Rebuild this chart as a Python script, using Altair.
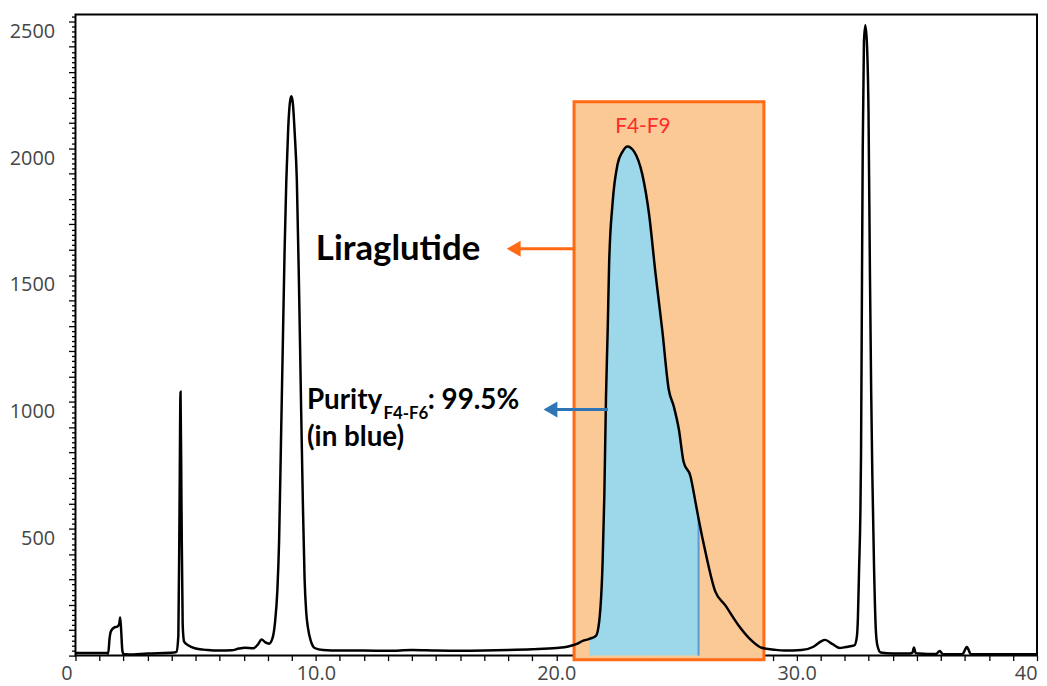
import altair as alt
import pandas as pd

# Chromatogram trace (retention time in min, signal in mAU)
time_min = [0.0, 1.3, 1.36, 1.42, 1.47, 1.6, 1.75, 1.82, 1.86, 1.9, 1.95, 2.0, 2.2, 3.0, 4.1,
            4.2, 4.28, 4.33, 4.37, 4.41, 4.46, 4.52, 4.7, 5.0, 5.5, 6.0, 6.5, 6.8, 7.05, 7.4,
            7.6, 7.74, 7.9, 8.05, 8.2, 8.3, 8.4, 8.47, 8.55, 8.62, 8.7, 8.77, 8.85, 8.92, 8.98,
            9.04, 9.12, 9.21, 9.3, 9.39, 9.46, 9.53, 9.6, 9.67, 9.8, 9.95, 10.3, 11.0, 12.0,
            13.0, 14.0, 15.0, 16.0, 17.0, 18.0, 19.0, 20.0, 20.5, 20.83, 21.1, 21.38, 21.65,
            21.79, 21.93, 22.0, 22.07, 22.14, 22.2, 22.34, 22.55, 22.76, 22.96, 23.24, 23.58,
            23.86, 24.13, 24.41, 24.68, 24.89, 25.1, 25.3, 25.58, 25.79, 25.92, 26.2, 26.61,
            27.02, 27.57, 28.13, 28.54, 29.09, 29.5, 30.2, 30.7, 31.0, 31.18, 31.5, 31.8, 32.05,
            32.3, 32.4, 32.5, 32.55, 32.6, 32.65, 32.68, 32.72, 32.75, 32.8, 32.86, 32.93,
            32.99, 33.05, 33.1, 33.15, 33.22, 33.29, 33.36, 33.5, 34.0, 34.7, 34.82, 34.88,
            34.95, 35.1, 35.8, 35.95, 36.1, 36.9, 37.08, 37.25, 38.0, 39.0, 40.0]
signal_mau = [10, 10, 8, 70, 95, 110, 115, 125, 150, 100, 20, 6, 4, 8, 12,
              15, 80, 600, 1040, 600, 120, 55, 40, 28, 22, 20, 21, 28, 31, 29,
              45, 64, 52, 47, 70, 130, 260, 450, 850, 1200, 1600, 1870, 2080, 2180, 2205,
              2180, 2060, 1870, 1450, 958, 600, 305, 170, 110, 55, 30, 22, 20, 20,
              19, 22, 20, 19, 20, 22, 25, 30, 36, 45, 58, 66, 78,
              137, 372, 630, 1021, 1283, 1545, 1780, 1937, 1987, 2007, 1987, 1897,
              1741, 1506, 1283, 1049, 982, 892, 763, 708, 606, 540, 411, 254,
              200, 121, 59, 31, 23, 20, 22, 35, 55, 62, 45, 30, 34,
              38, 40, 70, 150, 350, 550, 800, 1500, 2000, 2420, 2485, 2400,
              2144, 1500, 1050, 709, 350, 110, 40, 12, 8, 8, 12, 32,
              10, 8, 6, 18, 5, 6, 34, 6, 5, 5, 5]

# Collected fraction window F4-F9 and purity window F4-F6
pool_start, pool_end = 20.74, 28.64
pool_low, pool_high = -16, 2183
blue_start, blue_end = 21.38, 25.92
blue_end_signal = signal_mau[time_min.index(blue_end)]

df = pd.DataFrame({"t": time_min, "s": signal_mau})

XS = alt.Scale(domain=[0, 40], nice=False, zero=False)
YS = alt.Scale(domain=[0, 2527], nice=False, zero=False)

LABEL_GREY = "#454545"

X_AX = alt.Axis(
    values=list(range(0, 41)),
    labelExpr=("datum.value == 0 ? '0' : (datum.value == 40 ? '40' : "
               "(datum.value % 10 == 0 ? format(datum.value, '.1f') : ''))"),
    labelOffset={"condition": {"test": "datum.value == 0", "value": -9}, "value": 0},
    labelAlign={"condition": {"test": "datum.value == 40", "value": "right"}, "value": "center"},
    tickSize=5, tickColor="black", tickWidth=1.3, domain=False, grid=False,
    labelFont="Open Sans", labelFontSize=20, labelColor=LABEL_GREY,
    labelPadding=3, labelFlush=False, labelOverlap=False, title=None,
)
Y_AX = alt.Axis(
    values=list(range(0, 2521, 20)),
    labelExpr="(datum.value % 500 == 0 && datum.value > 0) ? datum.value : ''",
    tickSize={"condition": {"test": "datum.value % 100 === 0", "value": 7}, "value": 4},
    tickColor="black", tickWidth=1.3, domain=False, grid=False,
    labelFont="Open Sans", labelFontSize=20, labelColor=LABEL_GREY,
    labelPadding=14, labelOffset=10, labelOverlap=False, labelFlush=False, title=None,
)

box = alt.Chart(df).mark_rect(
    fill="#FBC995", stroke="#FF6A13", strokeWidth=3
).encode(
    x=alt.X(datum=pool_start, type="quantitative", scale=XS, axis=X_AX),
    x2=alt.X2(datum=pool_end),
    y=alt.Y(datum=pool_low, type="quantitative", scale=YS, axis=Y_AX),
    y2=alt.Y2(datum=pool_high),
).transform_filter("datum.t == 0")

blue_area = alt.Chart(df).mark_area(
    color="#9DD8EA", interpolate="monotone", opacity=1
).encode(
    x=alt.X("t:Q", scale=XS, axis=X_AX),
    y=alt.Y("s:Q", scale=YS, axis=Y_AX),
).transform_filter(f"datum.t >= {blue_start} && datum.t <= {blue_end}")

blue_rule = alt.Chart(df).mark_rule(color="#5B9BD5", strokeWidth=2).encode(
    x=alt.X(datum=blue_end, type="quantitative", scale=XS, axis=X_AX),
    y=alt.Y(datum=0, type="quantitative", scale=YS, axis=Y_AX),
    y2=alt.Y2(datum=blue_end_signal),
).transform_filter("datum.t == 0")

trace = alt.Chart(df).mark_line(
    color="black", strokeWidth=2.5, interpolate="monotone"
).encode(
    x=alt.X("t:Q", scale=XS, axis=X_AX),
    y=alt.Y("s:Q", scale=YS, axis=Y_AX),
    order="t:Q",
)


def arrow(x_from, x_to, y, color):
    line = alt.Chart(df).mark_rule(color=color, strokeWidth=3).encode(
        x=alt.X(datum=x_from, type="quantitative", scale=XS, axis=X_AX),
        x2=alt.X2(datum=x_to + 0.5),
        y=alt.Y(datum=y, type="quantitative", scale=YS, axis=Y_AX),
    ).transform_filter("datum.t == 0")
    head = alt.Chart(df).mark_point(
        shape="triangle-left", filled=True, color=color, size=260, opacity=1
    ).encode(
        x=alt.X(datum=x_to + 0.38, type="quantitative", scale=XS, axis=X_AX),
        y=alt.Y(datum=y, type="quantitative", scale=YS, axis=Y_AX),
    ).transform_filter("datum.t == 0")
    return [line, head]


def label(text, x, y, size, color="black", weight="bold"):
    return alt.Chart(df).mark_text(
        text=text, align="left", baseline="middle", font="Lato",
        fontSize=size, fontWeight=weight, color=color
    ).encode(
        x=alt.X(datum=x, type="quantitative", scale=XS, axis=X_AX),
        y=alt.Y(datum=y, type="quantitative", scale=YS, axis=Y_AX),
    ).transform_filter("datum.t == 0")


layers = [box, blue_area, blue_rule, trace]
layers += arrow(pool_start, 17.85, 1604, "#FF6A13")
layers += arrow(22.15, 19.38, 970, "#2E75B6")
layers += [
    label("Liraglutide", 10.0, 1604, 35),
    label("Purity", 9.63, 1005, 28),
    label("F4-F6", 12.81, 954, 17),
    label(": 99.5%", 14.65, 1005, 28),
    label("(in blue)", 9.63, 858, 28),
    label("F4-F9", 22.45, 2085, 21, color="#FF2A2A", weight="normal"),
]

chart = alt.layer(*layers).properties(
    width=969, height=646,
    padding={"left": 68, "top": 4, "right": 2, "bottom": 28},
    autosize=alt.AutoSizeParams(type="none"),
).configure_view(stroke="black", strokeWidth=2)

chart.save("out.html", embed_options={"renderer": "svg", "actions": False})
